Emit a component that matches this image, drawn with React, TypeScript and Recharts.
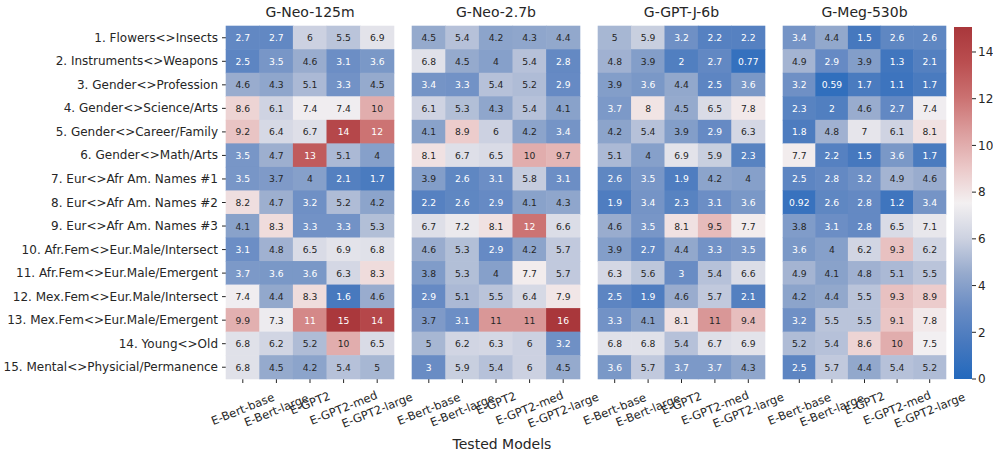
import { ScatterChart, Scatter, XAxis, YAxis, BarChart, Bar } from "recharts";

const models = ["E-Bert-base", "E-Bert-large", "E-GPT2", "E-GPT2-med", "E-GPT2-large"];

const tests = [
  "1. Flowers<>Insects",
  "2. Instruments<>Weapons",
  "3. Gender<>Profession",
  "4. Gender<>Science/Arts",
  "5. Gender<>Career/Family",
  "6. Gender<>Math/Arts",
  "7. Eur<>Afr Am. Names #1",
  "8. Eur<>Afr Am. Names #2",
  "9. Eur<>Afr Am. Names #3",
  "10. Afr.Fem<>Eur.Male/Intersect",
  "11. Afr.Fem<>Eur.Male/Emergent",
  "12. Mex.Fem<>Eur.Male/Intersect",
  "13. Mex.Fem<>Eur.Male/Emergent",
  "14. Young<>Old",
  "15. Mental<>Physicial/Permanence",
];

const panelTitles = ["G-Neo-125m", "G-Neo-2.7b", "G-GPT-J-6b", "G-Meg-530b"];

// rows = tests, columns = models
const neo125m = [
  [2.7, 2.7, 6, 5.5, 6.9],
  [2.5, 3.5, 4.6, 3.1, 3.6],
  [4.6, 4.3, 5.1, 3.3, 4.5],
  [8.6, 6.1, 7.4, 7.4, 10],
  [9.2, 6.4, 6.7, 14, 12],
  [3.5, 4.7, 13, 5.1, 4],
  [3.5, 3.74, 4, 2.1, 1.7],
  [8.2, 4.7, 3.2, 5.2, 4.2],
  [4.1, 8.3, 3.3, 3.3, 5.3],
  [3.1, 4.8, 6.5, 6.9, 6.8],
  [3.66, 3.6, 3.6, 6.3, 8.3],
  [7.4, 4.4, 8.3, 1.6, 4.6],
  [9.9, 7.3, 11.3, 15, 14],
  [6.8, 6.2, 5.2, 10, 6.5],
  [6.8, 4.5, 4.2, 5.4, 5],
];

const neo27b = [
  [4.5, 5.4, 4.2, 4.3, 4.4],
  [6.8, 4.5, 4, 5.4, 2.8],
  [3.4, 3.3, 5.4, 5.2, 2.9],
  [6.1, 5.3, 4.3, 5.4, 4.1],
  [4.1, 8.9, 6, 4.2, 3.4],
  [8.1, 6.7, 6.5, 10, 9.7],
  [3.9, 2.6, 3.1, 5.8, 3.1],
  [2.2, 2.6, 2.9, 4.1, 4.3],
  [6.7, 7.2, 8.1, 12, 6.6],
  [4.6, 5.3, 2.9, 4.2, 5.7],
  [3.8, 5.3, 4, 7.7, 5.7],
  [2.9, 5.1, 5.5, 6.4, 7.9],
  [3.74, 3.1, 10.8, 10.8, 16],
  [5, 6.2, 6.3, 6, 3.2],
  [3, 5.9, 5.4, 6, 4.5],
];

const gptj6b = [
  [5, 5.9, 3.2, 2.2, 2.2],
  [4.8, 3.9, 2, 2.7, 0.77],
  [3.9, 3.6, 4.4, 2.5, 3.6],
  [3.66, 8, 4.5, 6.5, 7.8],
  [4.2, 5.4, 3.9, 2.9, 6.3],
  [5.1, 4, 6.9, 5.9, 2.3],
  [2.6, 3.5, 1.9, 4.2, 4],
  [1.9, 3.4, 2.3, 3.1, 3.6],
  [4.6, 3.5, 8.1, 9.5, 7.7],
  [3.9, 2.7, 4.4, 3.3, 3.5],
  [6.3, 5.6, 3, 5.4, 6.6],
  [2.5, 1.9, 4.6, 5.7, 2.1],
  [3.3, 4.1, 8.1, 10.8, 9.4],
  [6.8, 6.8, 5.4, 6.7, 6.9],
  [3.6, 5.7, 3.66, 3.66, 4.3],
];

const meg530b = [
  [3.4, 4.4, 1.5, 2.6, 2.6],
  [4.9, 2.9, 3.9, 1.3, 2.1],
  [3.2, 0.59, 1.7, 1.1, 1.7],
  [2.3, 2, 4.6, 2.7, 7.4],
  [1.8, 4.8, 7, 6.1, 8.1],
  [7.7, 2.2, 1.5, 3.6, 1.7],
  [2.5, 2.8, 3.2, 4.9, 4.6],
  [0.92, 2.6, 2.8, 1.2, 3.4],
  [3.8, 3.1, 2.8, 6.5, 7.1],
  [3.6, 4, 6.2, 9.3, 6.2],
  [4.9, 4.1, 4.8, 5.1, 5.5],
  [4.2, 4.4, 5.5, 9.3, 8.9],
  [3.2, 5.5, 5.5, 9.1, 7.8],
  [5.2, 5.4, 8.6, 10, 7.5],
  [2.5, 5.7, 4.4, 5.4, 5.2],
];

const panelValues = [neo125m, neo27b, gptj6b, meg530b];

const colorbarTicks = [0, 2, 4, 6, 8, 10, 12, 14];
const colorRange = [0, 15.07];

// approximate seaborn "vlag"
const vlagStops: [number, number, number][] = [
  [35, 105, 189],
  [70, 120, 190],
  [105, 140, 196],
  [150, 170, 205],
  [205, 210, 225],
  [243, 240, 241],
  [235, 200, 200],
  [220, 158, 158],
  [203, 113, 113],
  [186, 78, 80],
  [169, 55, 59],
];

function vlag(t: number) {
  const c = Math.max(0, Math.min(1, t)) * (vlagStops.length - 1);
  const i = Math.min(Math.floor(c), vlagStops.length - 2);
  const f = c - i;
  const a = vlagStops[i];
  const b = vlagStops[i + 1];
  const m = (k: number) => Math.round(a[k] + (b[k] - a[k]) * f);
  return `rgb(${m(0)},${m(1)},${m(2)})`;
}

const colorOf = (v: number) => vlag((v - colorRange[0]) / (colorRange[1] - colorRange[0]));
const fmt = (v: number) => String(Number(v.toPrecision(2)));

const FONT = "DejaVu Sans, sans-serif";
const INK = "#262626";
const PLOT_TOP = 26;
const PLOT_BOTTOM = 379;
const H = 455;
const PAD = 40; // room for rotated tick labels that hang over the panel edges

const panels = [
  { left: 0, width: 394, yAxisWidth: 226 },
  { left: 412, width: 168, yAxisWidth: 0 },
  { left: 598, width: 167, yAxisWidth: 0 },
  { left: 783, width: 163, yAxisWidth: 0 },
];

const makeCell = (w: number, h: number) => (props: any) => {
  const { cx, cy, payload } = props;
  if (cx == null || cy == null) return <g />;
  const v = payload.v;
  const light = v < 3.7 || v > 11.2;
  return (
    <g>
      <rect x={cx - w / 2 - 0.3} y={cy - h / 2 - 0.3} width={w + 0.6} height={h + 0.6} fill={colorOf(v)} />
      <text
        x={cx}
        y={cy}
        textAnchor="middle"
        dominantBaseline="central"
        fontSize={9.2}
        fontFamily={FONT}
        fill={light ? "#ffffff" : INK}
      >
        {fmt(v)}
      </text>
    </g>
  );
};

const XTick = (props: any) => {
  const { x, payload } = props;
  const label = models[payload.value];
  const fs = 11.5;
  const deg = 22;
  const th = (deg * Math.PI) / 180;
  const w = label.length * fs * 0.55;
  const bh = w * Math.sin(th) + fs * 0.75 * Math.cos(th);
  const cy = PLOT_BOTTOM + 13 + bh / 2;
  return (
    <text
      x={x}
      y={cy}
      transform={`rotate(-${deg} ${x} ${cy})`}
      textAnchor="middle"
      dominantBaseline="central"
      fontSize={fs}
      fontFamily={FONT}
      fill={INK}
    >
      {label}
    </text>
  );
};

const YTick = (props: any) => {
  const { x, y, payload } = props;
  return (
    <text
      x={x}
      y={y}
      textAnchor="end"
      dominantBaseline="central"
      fontSize={12}
      fontFamily={FONT}
      fill={INK}
    >
      {tests[payload.value]}
    </text>
  );
};

function Panel({ idx }: { idx: number }) {
  const box = panels[idx];
  const vals = panelValues[idx];
  const data = tests.flatMap((_, r) => models.map((_, c) => ({ col: c, row: r, v: vals[r][c] })));
  const plotW = box.width - box.yAxisWidth;
  const cellW = plotW / models.length;
  const cellH = (PLOT_BOTTOM - PLOT_TOP) / tests.length;
  const padL = idx === 0 ? 0 : PAD;
  return (
    <div style={{ position: "absolute", left: box.left - padL, top: 0 }}>
      <div
        style={{
          position: "absolute",
          left: padL + box.yAxisWidth,
          width: plotW,
          top: 3,
          textAlign: "center",
          fontSize: 14,
          lineHeight: "18px",
          fontFamily: FONT,
          color: INK,
        }}
      >
        {panelTitles[idx]}
      </div>
      <ScatterChart
        width={box.width + padL + PAD}
        height={H}
        margin={{ top: PLOT_TOP, right: PAD, bottom: 0, left: padL }}
      >
        <XAxis
          type="number"
          dataKey="col"
          domain={[-0.5, models.length - 0.5]}
          ticks={models.map((_, i) => i)}
          interval={0}
          height={H - PLOT_BOTTOM}
          axisLine={false}
          tickSize={4}
          tickLine={{ stroke: INK }}
          tick={<XTick />}
        />
        <YAxis
          type="number"
          dataKey="row"
          domain={[-0.5, tests.length - 0.5]}
          ticks={tests.map((_, i) => i)}
          interval={0}
          reversed
          hide={idx !== 0}
          width={box.yAxisWidth}
          axisLine={false}
          tickSize={4}
          tickMargin={4}
          tickLine={{ stroke: INK }}
          tick={<YTick />}
        />
        <Scatter data={data} shape={makeCell(cellW, cellH)} isAnimationActive={false} />
      </ScatterChart>
    </div>
  );
}

function Colorbar() {
  const data = [{ name: "scale", top: colorRange[1] }];
  const stops = vlagStops.map((_, i) => i / (vlagStops.length - 1));
  return (
    <div style={{ position: "absolute", left: 954, top: 0 }}>
      <BarChart
        width={39}
        height={H}
        data={data}
        barCategoryGap={0}
        margin={{ top: 27, right: 0, bottom: H - PLOT_BOTTOM, left: 0 }}
      >
        <defs>
          <linearGradient id="vlagGrad" x1="0" y1="1" x2="0" y2="0">
            {stops.map((t) => (
              <stop key={t} offset={t} stopColor={vlag(t)} />
            ))}
          </linearGradient>
        </defs>
        <XAxis dataKey="name" hide />
        <YAxis
          orientation="right"
          type="number"
          domain={colorRange}
          ticks={colorbarTicks}
          interval={0}
          allowDataOverflow
          width={21}
          axisLine={false}
          tickSize={4}
          tickMargin={2}
          tickLine={{ stroke: INK }}
          tick={{ fontSize: 12, fontFamily: FONT, fill: INK }}
        />
        <Bar dataKey="top" fill="url(#vlagGrad)" isAnimationActive={false} />
      </BarChart>
    </div>
  );
}

export default function App() {
  return (
    <div style={{ position: "absolute", left: 0, top: 0, width: 993, height: H, background: "#fff", overflow: "hidden" }}>
      {panelTitles.map((_, i) => (
        <Panel key={i} idx={i} />
      ))}
      <Colorbar />
      <div
        style={{
          position: "absolute",
          left: 402,
          width: 200,
          top: 435,
          textAlign: "center",
          fontSize: 14,
          lineHeight: "18px",
          fontFamily: FONT,
          color: INK,
        }}
      >
        Tested Models
      </div>
    </div>
  );
}
